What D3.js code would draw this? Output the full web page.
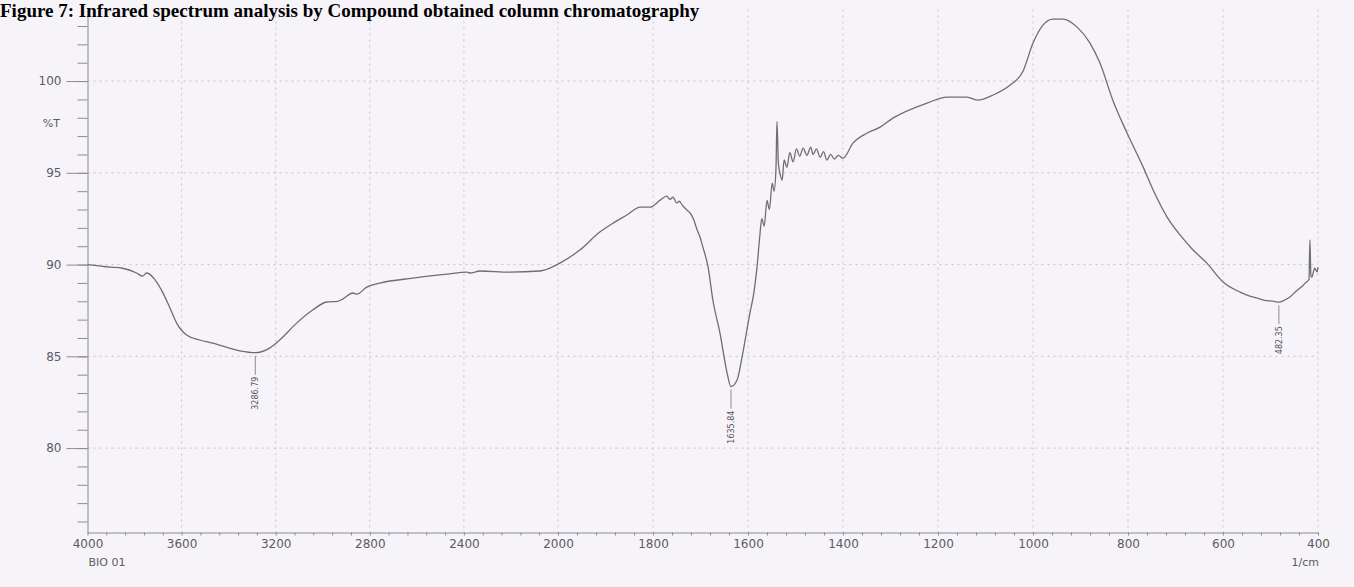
<!DOCTYPE html>
<html>
<head>
<meta charset="utf-8">
<script src="https://cdn.jsdelivr.net/npm/d3@7"></script>
<style>
  html, body { margin: 0; padding: 0; background: #f6f4f9; }
  svg { display: block; }
</style>
</head>
<body>
<svg id="chart" width="1354" height="587"></svg>
<script>
const titleText = "Figure 7: Infrared spectrum analysis by Compound obtained column chromatography";
const xTickValues = [4000, 3600, 3200, 2800, 2400, 2000, 1800, 1600, 1400, 1200, 1000, 800, 600, 400];
const yTickValues = [80, 85, 90, 95, 100];
const sampleName = "BIO 01";
const xUnit = "1/cm";
const yUnit = "%T";

const wavenumber = [
  4000, 3902, 3851, 3791, 3766, 3749, 3706, 3681, 3651, 3621, 3579, 3523, 3468, 3353, 3286.79, 3226, 3183, 3111, 3043,
  2983, 2936, 2915, 2872, 2855, 2813, 2757, 2617, 2472, 2387, 2374, 2332, 2204, 2077, 2034, 1996,
  1954, 1912, 1884, 1855, 1827, 1806, 1785, 1771, 1764, 1758, 1750, 1745, 1737, 1730, 1722, 1715, 1707, 1701, 1695, 1684, 1674,
  1659, 1644, 1635.84, 1623, 1611, 1596, 1588, 1581, 1575, 1571, 1566, 1560, 1555, 1549, 1545, 1541, 1539, 1536, 1532, 1528,
  1524, 1518, 1512, 1505, 1498, 1491, 1484, 1476, 1468, 1463, 1456, 1448, 1441, 1434, 1426, 1418, 1410, 1400,
  1379, 1349, 1322, 1295, 1223, 1181, 1139, 1116, 1084, 1048, 1021, 1000, 979, 958, 937, 907, 880, 859,
  832, 802, 768, 747, 718, 690, 665, 634, 600, 564, 545, 528, 512, 495, 482.35, 470, 459, 448, 438, 432, 427, 419, 417, 415, 413, 407, 402, 400
];
const transmittance = [
  90.0, 89.86, 89.8, 89.54, 89.37, 89.54, 89.05, 88.5, 87.68, 86.81, 86.16, 85.89, 85.72, 85.3, 85.2, 85.45, 85.89, 86.81, 87.52,
  87.96, 88.0, 88.12, 88.45, 88.39, 88.77, 88.99, 89.26, 89.48, 89.59, 89.54, 89.65, 89.59, 89.65, 89.81, 90.08,
  90.79, 91.77, 92.26, 92.7, 93.13, 93.13, 93.51, 93.73, 93.55, 93.68, 93.35, 93.45, 93.19, 93.0, 92.81, 92.5, 91.88, 91.5, 90.95, 89.86, 88.07,
  86.27, 84.09, 83.35, 83.71, 85.18, 87.36, 88.4, 89.86, 91.6, 92.5, 92.1, 93.5, 93.0, 94.44, 94.0, 95.31, 97.8, 95.5, 94.9, 94.6,
  95.7, 95.3, 96.1, 95.6, 96.3, 95.9, 96.35, 95.95, 96.4, 96.0, 96.3, 95.85, 96.15, 95.69, 96.0, 95.75, 95.95, 95.8,
  96.62, 97.17, 97.49, 97.98, 98.8, 99.13, 99.13, 98.96, 99.24, 99.78, 100.54, 102.07, 103.05, 103.38, 103.38, 102.94, 102.07, 100.98,
  98.96, 97.17, 95.31, 94.06, 92.6, 91.6, 90.85, 90.08, 89.05, 88.5, 88.3, 88.17, 88.05, 88.01, 87.95, 88.07, 88.23, 88.5, 88.72, 88.85, 88.99, 89.2, 91.34, 89.4, 89.32, 89.8, 89.6, 89.86
];

const peakWavenumbers = [3286.79, 1635.84, 482.35];
const peakValues = [85.2, 83.35, 87.95];
const peakLabels = ["3286.79", "1635.84", "482.35"];

const svg = d3.select("#chart");
const W = 1354, H = 587;

const x = d3.scaleLinear().domain([4000, 2000, 400]).range([87.5, 558, 1318]);
const y = d3.scaleLinear().domain([75.4, 103.9]).range([532.5, 9.5]);

const labelFont = "'DejaVu Sans', 'Liberation Sans', sans-serif";
const axisColor = "#8c8a94";
const textColor = "#5c5a62";

// background
svg.append("rect").attr("width", W).attr("height", H).attr("fill", "#f6f4f9");

// grid
const grid = svg.append("g");
grid.selectAll("line.h").data(yTickValues).join("line")
  .attr("x1", x(4000)).attr("x2", x(400))
  .attr("y1", d => y(d)).attr("y2", d => y(d))
  .attr("stroke", "#c4c2cc").attr("stroke-width", 1).attr("stroke-dasharray", "2,4");
grid.selectAll("line.v").data(xTickValues.filter(d => d !== 4000)).join("line")
  .attr("x1", d => x(d)).attr("x2", d => x(d))
  .attr("y1", y(103.9)).attr("y2", y(75.4))
  .attr("stroke", "#c4c2cc").attr("stroke-width", 1).attr("stroke-dasharray", "2,4");

// x axis
const xMinor = d3.range(4000, 2000, -80).concat(d3.range(2000, 399, -40));
const xAxisG = svg.append("g").attr("transform", `translate(0,${y(75.4)})`);
xAxisG.call(d3.axisBottom(x).tickValues(xMinor).tickSize(3).tickFormat("").tickSizeOuter(0));
xAxisG.append("g").call(d3.axisBottom(x).tickValues(xTickValues).tickSize(0).tickPadding(7)
  .tickFormat(d3.format("d")));
xAxisG.selectAll("path, line").attr("stroke", axisColor);
xAxisG.selectAll("path").attr("stroke-width", 1);
xAxisG.selectAll("text").attr("fill", textColor).style("font-family", labelFont).style("font-size", "12px");
xAxisG.selectAll("g > g > path").remove();

// y axis
const yMinor = d3.range(76, 104, 1);
const yAxisG = svg.append("g").attr("transform", `translate(${x(4000)},0)`);
yAxisG.call(d3.axisLeft(y).tickValues(yMinor).tickSize(10).tickFormat("").tickSizeOuter(0));
yAxisG.append("g").call(d3.axisLeft(y).tickValues(yTickValues).tickSize(21).tickPadding(5)
  .tickFormat(d3.format("d")));
yAxisG.selectAll("path, line").attr("stroke", axisColor);
yAxisG.selectAll("text").attr("fill", textColor).style("font-family", labelFont).style("font-size", "12px");
yAxisG.selectAll("g > g > path").remove();

// unit labels
svg.append("text").attr("x", 60).attr("y", y(97.5)).attr("text-anchor", "end")
  .attr("fill", textColor).style("font-family", labelFont).style("font-size", "11px").text(yUnit);
svg.append("text").attr("x", x(4000) + 1).attr("y", y(75.4) + 33).attr("text-anchor", "start")
  .attr("fill", textColor).style("font-family", labelFont).style("font-size", "11px").text(sampleName);
svg.append("text").attr("x", x(400) + 1).attr("y", y(75.4) + 33).attr("text-anchor", "end")
  .attr("fill", textColor).style("font-family", labelFont).style("font-size", "11px").text(xUnit);

// spectrum line
const pts = wavenumber.map((w, i) => [w, transmittance[i]]);
const line = d3.line().x(d => x(d[0])).y(d => y(d[1])).curve(d3.curveMonotoneX);
svg.append("path").datum(pts).attr("d", line)
  .attr("fill", "none").attr("stroke", "#6f6d74").attr("stroke-width", 1.3).attr("stroke-linejoin", "round");

// peak labels
const peaks = peakWavenumbers.map((w, i) => ({ w, v: peakValues[i], label: peakLabels[i] }));
const pg = svg.append("g");
pg.selectAll("line").data(peaks).join("line")
  .attr("x1", d => x(d.w)).attr("x2", d => x(d.w))
  .attr("y1", d => y(d.v) + 3).attr("y2", d => y(d.v) + 22)
  .attr("stroke", "#8c8a94").attr("stroke-width", 1);
pg.selectAll("text").data(peaks).join("text")
  .attr("transform", d => `translate(${x(d.w) + 3},${y(d.v) + 24}) rotate(-90)`)
  .attr("text-anchor", "end")
  .attr("fill", "#55535a").style("font-family", labelFont).style("font-size", "8px")
  .text(d => d.label);

// title
svg.append("text").attr("x", 0).attr("y", 17)
  .style("font-family", "'Liberation Serif', 'Times New Roman', serif")
  .style("font-weight", "bold").style("font-size", "19px").attr("fill", "#000")
  .text(titleText);
</script>
</body>
</html>
